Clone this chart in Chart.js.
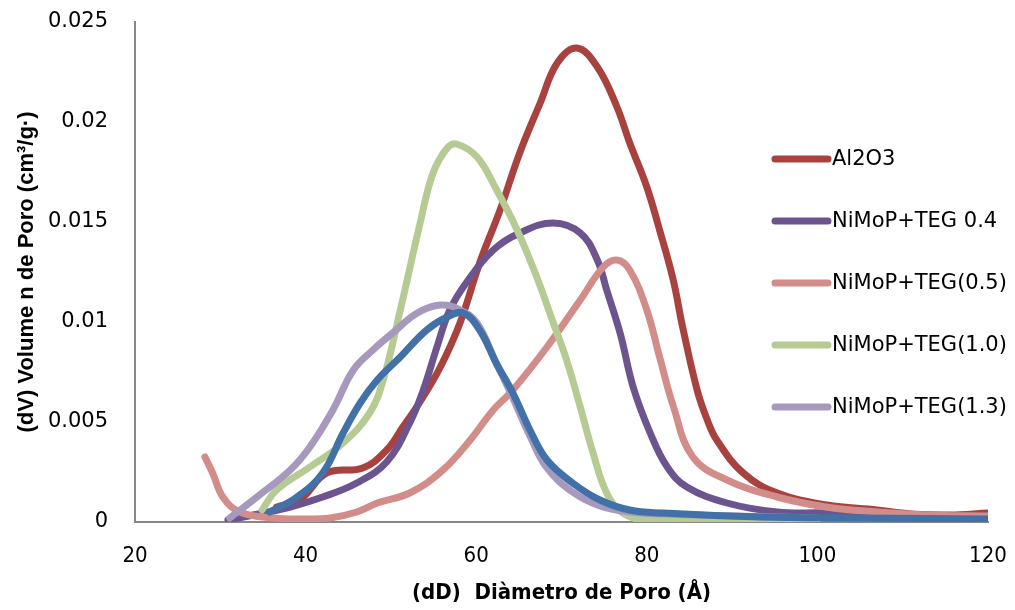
<!DOCTYPE html>
<html lang="es">
<head>
<meta charset="UTF-8">
<title>Distribución de poro</title>
<script src="https://cdn.jsdelivr.net/npm/chart.js"></script>
<style>
  html, body { margin: 0; padding: 0; background: #fff; overflow: hidden; }
  #wrap { width: 1015px; height: 610px; }
  canvas { display: block; }
</style>
</head>
<body>
<div id="wrap"><canvas id="poreChart" width="1015" height="610"></canvas></div>
<script>
// values
const al2o3X = [36.6, 39.3, 42.5, 46.7, 49.5, 51.4, 53.4, 55.8, 58.1, 60.4, 62.8, 65.1, 67.5, 69.5, 71.8, 74.2, 76.5, 78.0, 80.0, 81.5, 83.1, 84.2, 85.9, 87.0, 88.2, 91.3, 95.3, 101.1, 107.0, 110.9, 115.5, 120];
const al2o3Y = [0.00075, 0.0011, 0.00245, 0.0027, 0.0036, 0.00475, 0.006, 0.00775, 0.00995, 0.01295, 0.0156, 0.01845, 0.02095, 0.02295, 0.0237, 0.02275, 0.02075, 0.01895, 0.01675, 0.0146, 0.0121, 0.00975, 0.0066, 0.0052, 0.0041, 0.00245, 0.00145, 0.00085, 0.0006, 0.0004, 0.00035, 0.00045];

const teg04X = [30.9, 34.5, 38.2, 42, 46, 49.5, 52.2, 53.8, 55.4, 56.9, 58.9, 62, 65.1, 69, 72.2, 74.2, 75.3, 76.9, 78.4, 80.4, 82.4, 84.7, 89.4, 95.3, 101, 110, 120];
const teg04Y = [0.0001, 0.0004, 0.00075, 0.00125, 0.00195, 0.003, 0.00495, 0.0066, 0.00875, 0.0106, 0.012, 0.0136, 0.01445, 0.01495, 0.01445, 0.0131, 0.0116, 0.0094, 0.00675, 0.00445, 0.00275, 0.00175, 0.00095, 0.0005, 0.00045, 0.0003, 0.0003];

const teg05X = [28.2, 29.1, 30.3, 32.3, 36.2, 40.2, 42.9, 46, 48.4, 52.2, 56.1, 59.3, 62, 64.3, 68.3, 72.2, 74.9, 76.5, 78, 80, 81.5, 83.1, 85.4, 89.4, 95.3, 101, 107, 112.8, 120];
const teg05Y = [0.00325, 0.00245, 0.00125, 0.0005, 0.0002, 0.00015, 0.0002, 0.0005, 0.00095, 0.00145, 0.0026, 0.0041, 0.0056, 0.0066, 0.00875, 0.0111, 0.01275, 0.0131, 0.0126, 0.0106, 0.00825, 0.0058, 0.00325, 0.0021, 0.00125, 0.00075, 0.0005, 0.00035, 0.0003];

const teg10X = [34.9, 36.6, 40.5, 44.4, 47.5, 49.1, 51.1, 53.4, 54.9, 56.6, 57.7, 60.1, 62.4, 64.8, 67.1, 69, 70.6, 72.2, 73.7, 75.3, 77.2, 80, 90, 100];
const teg10Y = [0.0006, 0.0016, 0.00275, 0.00395, 0.00545, 0.0071, 0.0106, 0.0149, 0.0174, 0.0187, 0.0189, 0.01825, 0.0166, 0.0146, 0.01225, 0.01, 0.0081, 0.00575, 0.00345, 0.00145, 0.00045, 0.0001, 0.0001, 0.0001];

const teg13X = [31.1, 34.3, 38.2, 40.5, 43.2, 45.6, 47.9, 50.2, 53.1, 55.8, 58.1, 60.1, 62.4, 64.3, 66.3, 68.3, 71.3, 74.5, 78, 82, 90, 100];
const teg13Y = [0.0002, 0.00125, 0.0026, 0.00375, 0.0056, 0.0076, 0.0086, 0.00945, 0.01045, 0.01085, 0.0106, 0.00995, 0.0079, 0.0062, 0.0043, 0.0027, 0.0015, 0.0008, 0.0005, 0.0004, 0.0003, 0.0002];

// sixth curve, drawn but not listed in the legend
const extraX = [35.8, 39, 42, 44.4, 46.4, 48.4, 51.1, 54.2, 56.6, 58.5, 60.4, 62.4, 64.3, 66.3, 68.3, 71.3, 74.5, 78, 81.9, 93.3, 105, 120];
const extraY = [0.0005, 0.00125, 0.00245, 0.00445, 0.00595, 0.0071, 0.00825, 0.0096, 0.01025, 0.01045, 0.0096, 0.0079, 0.00645, 0.0046, 0.0031, 0.00195, 0.0011, 0.0006, 0.00045, 0.00025, 0.0002, 0.00015];

const seriesNames = ['Al2O3', 'NiMoP+TEG 0.4', 'NiMoP+TEG(0.5)', 'NiMoP+TEG(1.0)', 'NiMoP+TEG(1.3)', ''];
const seriesColors = ['#A8423F', '#6C548E', '#D28D8A', '#B6CB94', '#A798BD', '#4271A8'];

const xTitle = '(dD)  Diàmetro de Poro (Å)';
const yTitle = '(dV) Volume n de Poro (cm³/g·)';

function pts(xs, ys) {
    return xs.map((x, i) => ({ x: x, y: ys[i] }));
}

const allX = [al2o3X, teg04X, teg05X, teg10X, teg13X, extraX];
const allY = [al2o3Y, teg04Y, teg05Y, teg10Y, teg13Y, extraY];

// legend drawn inside the plot area, right side
const sideLegend = {
    id: 'sideLegend',
    afterDraw(chart) {
        const ctx = chart.ctx;
        ctx.save();
        ctx.font = '21px "DejaVu Sans", sans-serif';
        ctx.textBaseline = 'middle';
        ctx.lineCap = 'round';
        for (let i = 0; i < 5; i++) {
            const y = 159 + i * 62;
            ctx.strokeStyle = seriesColors[i];
            ctx.lineWidth = 7;
            ctx.beginPath();
            ctx.moveTo(775, y);
            ctx.lineTo(828, y);
            ctx.stroke();
            ctx.fillStyle = '#000';
            ctx.fillText(seriesNames[i], 832, y + 1);
        }
        ctx.restore();
    }
};

// keep the edge labels from pushing the plot area inwards
function noEdgePadding(scale) {
    scale.paddingTop = 0;
    scale.paddingBottom = 0;
    scale.paddingLeft = 0;
    scale.paddingRight = 0;
}

const ctx = document.getElementById('poreChart').getContext('2d');
new Chart(ctx, {
    type: 'line',
    data: {
        datasets: allX.map((xs, i) => ({
            label: seriesNames[i],
            data: pts(xs, allY[i]),
            borderColor: seriesColors[i],
            backgroundColor: seriesColors[i],
            borderWidth: 7,
            borderCapStyle: 'round',
            borderJoinStyle: 'round',
            pointRadius: 0,
            tension: 0.4,
            fill: false,
            order: 6 - i
        }))
    },
    options: {
        responsive: false,
        animation: false,
        layout: { autoPadding: false, padding: { left: 0, right: 27, top: 22, bottom: 0 } },
        plugins: {
            legend: { display: false },
            tooltip: { enabled: false }
        },
        scales: {
            x: {
                type: 'linear',
                min: 20,
                max: 120,
                grid: { display: false },
                border: { display: true, color: '#878787', width: 2 },
                ticks: {
                    stepSize: 20,
                    padding: 13,
                    color: '#000',
                    font: { family: '"Liberation Sans Narrow", "DejaVu Sans Condensed", sans-serif', size: 22 }
                },
                title: {
                    display: true,
                    text: xTitle,
                    color: '#000',
                    font: { family: '"Liberation Sans Narrow", "DejaVu Sans Condensed", sans-serif', size: 22, weight: 'bold' },
                    padding: { top: 10 }
                },
                afterFit(scale) { scale.height = 88; noEdgePadding(scale); }
            },
            y: {
                min: 0,
                max: 0.025,
                grid: { display: false },
                border: { display: true, color: '#878787', width: 2 },
                ticks: {
                    stepSize: 0.005,
                    padding: 19,
                    color: '#000',
                    font: { family: '"DejaVu Sans", sans-serif', size: 21 },
                    callback: v => String(Math.round(v * 1000) / 1000)
                },
                title: {
                    display: true,
                    text: yTitle,
                    color: '#000',
                    font: { family: '"Liberation Sans", sans-serif', size: 22, weight: 'bold' },
                    padding: { top: 14, bottom: 4 }
                },
                afterFit(scale) { scale.width = 135; noEdgePadding(scale); }
            }
        }
    },
    plugins: [sideLegend]
});
</script>
</body>
</html>
